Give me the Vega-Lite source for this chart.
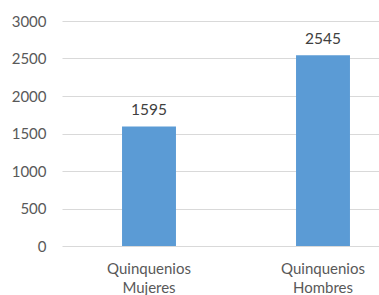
{
  "$schema": "https://vega.github.io/schema/vega-lite/v6.json",
  "autosize": "none",
  "padding": {"left": 62, "top": 21, "right": 0, "bottom": 49},
  "width": 317,
  "height": 225,
  "background": "white",
  "config": {"view": {"stroke": null}, "font": "Lato"},
  "data": {"values": [
    {"categoria": "Quinquenios Mujeres", "valor": 1595},
    {"categoria": "Quinquenios Hombres", "valor": 2545}
  ]},
  "encoding": {
    "x": {
      "field": "categoria", "type": "nominal", "sort": null,
      "scale": {"range": [0, 348], "paddingInner": 0.69, "paddingOuter": 0.345},
      "axis": {"title": null, "labelAngle": 0, "domain": false, "ticks": false,
        "labelExpr": "split(datum.label, ' ')", "labelFontSize": 15, "labelColor": "#595959",
        "labelPadding": 15, "labelLineHeight": 19}
    },
    "y": {
      "field": "valor", "type": "quantitative",
      "scale": {"domain": [0, 3000]},
      "axis": {"title": null, "values": [0, 500, 1000, 1500, 2000, 2500, 3000], "format": "d", "domain": false, "ticks": false,
        "gridColor": "#d9d9d9", "labelFontSize": 15, "labelColor": "#595959", "labelPadding": 16}
    }
  },
  "layer": [
    {"mark": {"type": "bar", "color": "#5b9bd5"}},
    {"mark": {"type": "text", "dy": -8, "baseline": "bottom", "fontSize": 15.5, "color": "#404040"},
     "encoding": {"text": {"field": "valor", "type": "quantitative"}}}
  ]
}
